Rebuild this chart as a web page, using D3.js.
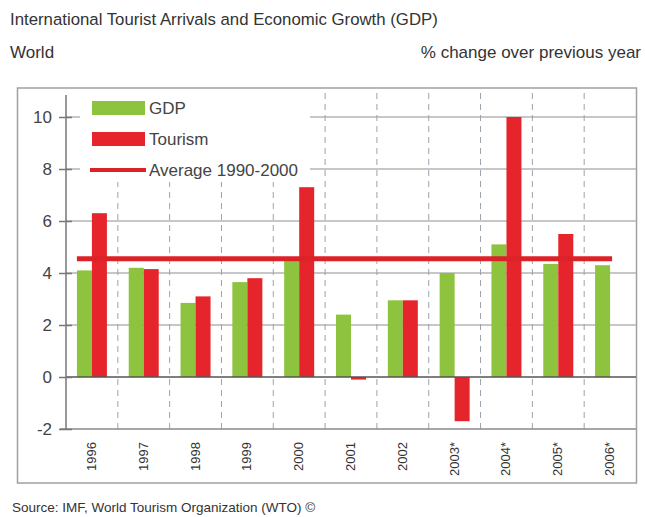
<!DOCTYPE html>
<html lang="en">
<head>
    <meta charset="UTF-8">
    <title>Tourist Arrivals and GDP</title>
    <script src="https://cdn.jsdelivr.net/npm/d3@7"></script>
    <style>
        body { margin: 0; background: #fff; }
        svg { display: block; font-family: "Liberation Sans", Arial, sans-serif; }
    </style>
</head>
<body>
<div id="chart"></div>
<script>
    const years = ["1996", "1997", "1998", "1999", "2000", "2001", "2002", "2003*", "2004*", "2005*", "2006*"]
    const gdp = [4.1, 4.2, 2.85, 3.65, 4.5, 2.4, 2.95, 4.0, 5.1, 4.35, 4.3]
    const tourism = [6.3, 4.15, 3.1, 3.8, 7.3, -0.1, 2.95, -1.7, 10.0, 5.5, null]
    const average = 4.55
    const yTicks = [-2, 0, 2, 4, 6, 8, 10]

    const width = 645, height = 517
    const green = "#8dc33f", red = "#e5252b", lineRed = "#dc2229"

    const svg = d3.select("#chart").append("svg")
        .attr("width", width).attr("height", height)

    // titles
    svg.append("text").attr("x", 10).attr("y", 25)
        .attr("font-size", 16.8).attr("fill", "#333")
        .text("International Tourist Arrivals and Economic Growth (GDP)")
    svg.append("text").attr("x", 10).attr("y", 58)
        .attr("font-size", 17).attr("fill", "#333").text("World")
    svg.append("text").attr("x", 641).attr("y", 58).attr("text-anchor", "end")
        .attr("font-size", 17).attr("fill", "#333").text("% change over previous year")
    svg.append("text").attr("x", 12).attr("y", 512)
        .attr("font-size", 13.5).attr("fill", "#333")
        .text("Source: IMF, World Tourism Organization (WTO) \u00a9")

    // frame
    svg.append("rect").attr("x", 17.5).attr("y", 88).attr("width", 619).attr("height", 395)
        .attr("fill", "none").attr("stroke", "#a0a0a0").attr("stroke-width", 1.5)

    const x = d3.scaleBand().domain(years).range([66, 636])
    const y = d3.scaleLinear().domain([-2, 11]).range([429, 91])
    const bw = 15

    // horizontal grid
    svg.append("g").selectAll("line")
        .data(yTicks.filter(d => d !== 0 && d !== -2))
        .join("line")
        .attr("x1", 66).attr("x2", 636)
        .attr("y1", d => y(d)).attr("y2", d => y(d))
        .attr("stroke", "#b4b4b4").attr("stroke-width", 1.5)

    // vertical dashed grid at category boundaries
    svg.append("g").selectAll("line")
        .data(years.slice(1))
        .join("line")
        .attr("x1", d => x(d)).attr("x2", d => x(d))
        .attr("y1", y.range()[1] + 2).attr("y2", y(-2))
        .attr("stroke", "#9aa3ad").attr("stroke-width", 1)
        .attr("stroke-dasharray", "6,5")

    // legend background covering grid
    svg.append("rect").attr("x", 80).attr("y", 92).attr("width", 230).attr("height", 90)
        .attr("fill", "#fff")

    // bars
    svg.append("g").selectAll("rect")
        .data(gdp)
        .join("rect")
        .attr("x", (d, i) => x(years[i]) + x.bandwidth() / 2 - bw)
        .attr("width", bw)
        .attr("y", d => y(Math.max(0, d)))
        .attr("height", d => Math.abs(y(d) - y(0)))
        .attr("fill", green)

    svg.append("g").selectAll("rect")
        .data(tourism.map((v, i) => ({v, i})).filter(d => d.v !== null))
        .join("rect")
        .attr("x", d => x(years[d.i]) + x.bandwidth() / 2)
        .attr("width", bw)
        .attr("y", d => y(Math.max(0, d.v)))
        .attr("height", d => Math.max(1.5, Math.abs(y(d.v) - y(0))))
        .attr("fill", red)

    // axes lines
    svg.append("line").attr("x1", 66).attr("x2", 636).attr("y1", y(0)).attr("y2", y(0))
        .attr("stroke", "#555").attr("stroke-width", 1.5)
    svg.append("line").attr("x1", 60).attr("x2", 636).attr("y1", y(-2)).attr("y2", y(-2))
        .attr("stroke", "#888").attr("stroke-width", 1.5)

    const yAxis = d3.axisLeft(y).tickValues(yTicks).tickFormat(d => String(d)).tickSize(8).tickPadding(6)
    const ya = svg.append("g").attr("transform", "translate(66,0)").call(yAxis)
    ya.select(".domain").attr("d", `M0,95V${y(-2)}`).attr("stroke", "#777").attr("stroke-width", 1.5)
    ya.selectAll(".tick line").attr("x2", 6).attr("x1", -7).attr("stroke", "#777").attr("stroke-width", 1.5)
    ya.selectAll(".tick text").attr("font-size", 17).attr("fill", "#444")
        .attr("font-family", null).attr("x", -14)

    // average line
    svg.append("line")
        .attr("x1", x(years[0]) + x.bandwidth() / 2 - bw)
        .attr("x2", x(years[years.length - 1]) + x.bandwidth() / 2 + 2)
        .attr("y1", y(average)).attr("y2", y(average))
        .attr("stroke", lineRed).attr("stroke-width", 5)

    // x labels
    svg.append("g").selectAll("text")
        .data(years)
        .join("text")
        .attr("transform", d => `translate(${x(d) + x.bandwidth() / 2 + 4},442) rotate(-90)`)
        .attr("text-anchor", "end")
        .attr("font-size", 13).attr("fill", "#333")
        .text(d => d)

    // legend
    const legend = [
        {label: "GDP", type: "rect", color: green},
        {label: "Tourism", type: "rect", color: red},
        {label: "Average 1990-2000", type: "line", color: lineRed}
    ]
    const lg = svg.append("g").selectAll("g").data(legend).join("g")
        .attr("transform", (d, i) => `translate(92,${108 + i * 31})`)
    lg.filter(d => d.type === "rect").append("rect")
        .attr("x", 0).attr("y", -7).attr("width", 53).attr("height", 14)
        .attr("fill", d => d.color)
    lg.filter(d => d.type === "line").append("line")
        .attr("x1", -2).attr("x2", 54).attr("y1", 0).attr("y2", 0)
        .attr("stroke", d => d.color).attr("stroke-width", 4)
    lg.append("text").attr("x", 57).attr("y", 6)
        .attr("font-size", 17).attr("fill", "#444")
        .text(d => d.label)
</script>
</body>
</html>
